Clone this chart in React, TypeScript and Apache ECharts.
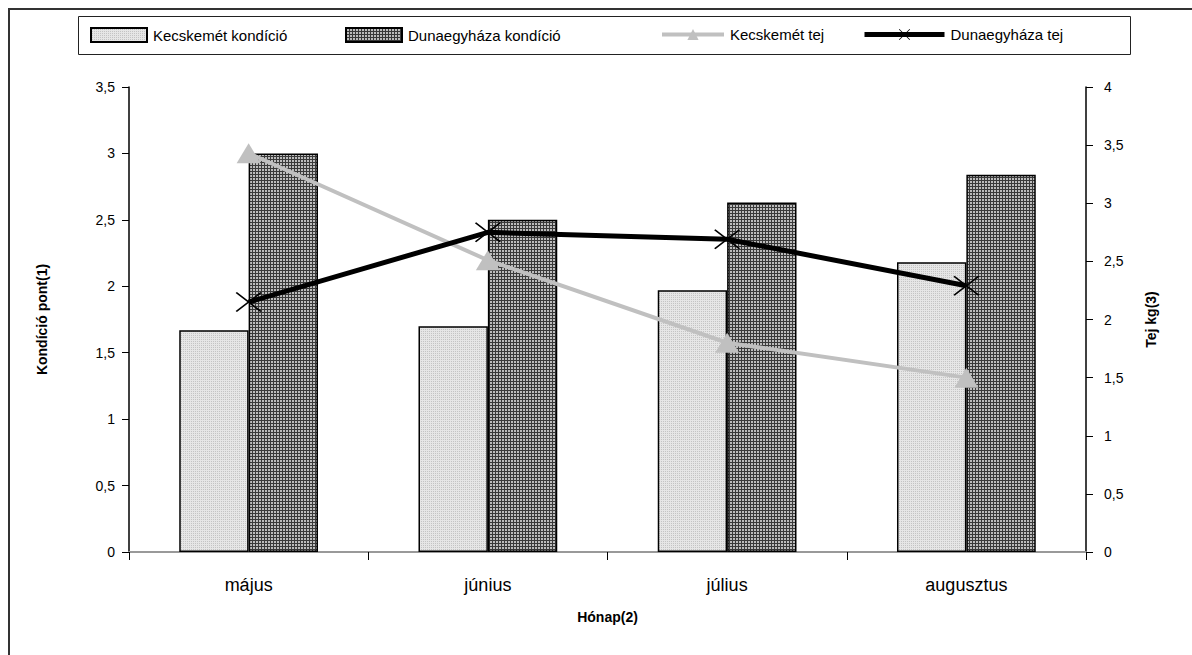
import React, { useEffect, useRef } from "react";
import * as echarts from "echarts";

const categories = ["május", "június", "július", "augusztus"];
const kecKondicio = [1.67, 1.7, 1.97, 2.18];
const dunaKondicio = [3.0, 2.5, 2.63, 2.84];
const kecTej = [3.43, 2.51, 1.8, 1.5];
const dunaTej = [2.15, 2.75, 2.69, 2.29];
const seriesNames = [
  "Kecskemét kondíció",
  "Dunaegyháza kondíció",
  "Kecskemét tej",
  "Dunaegyháza tej",
];
const legendLefts = [90, 345, 660, 862];
const legendIconWidths = [56, 56, 62, 80];

const FONT = "'Liberation Sans', Arial, sans-serif";

function makePattern(cells: string[][]): HTMLCanvasElement {
  const c = document.createElement("canvas");
  const h = cells.length;
  const w = cells[0].length;
  c.width = w;
  c.height = h;
  const ctx = c.getContext("2d")!;
  for (let y = 0; y < h; y++) {
    for (let x = 0; x < w; x++) {
      ctx.fillStyle = cells[y][x];
      ctx.fillRect(x, y, 1, 1);
    }
  }
  return c;
}

const fmt = (v: number) => String(v).replace(".", ",");

export default function App() {
  const ref = useRef<HTMLDivElement>(null);
  useEffect(() => {
    document.body.style.margin = "0";
    if (!ref.current) return;
    const chart = echarts.init(ref.current, undefined, { renderer: "svg" });

    const light = makePattern([
      ["#e6e6e6", "#e6e6e6"],
      ["#e6e6e6", "#c4c4c4"],
    ]);
    const dark = makePattern([
      ["#3a3a3a", "#3a3a3a", "#3a3a3a"],
      ["#3a3a3a", "#bdbdbd", "#bdbdbd"],
      ["#3a3a3a", "#bdbdbd", "#bdbdbd"],
    ]);
    const lightFill: any = { image: light, repeat: "repeat" };
    const darkFill: any = { image: dark, repeat: "repeat" };

    const xPath =
      "path://M0,1L1,0L10,9L19,0L20,1L11,10L20,19L19,20L10,11L1,20L0,19L9,10Z";

    const lineWidths = [0, 0, 4, 5];
    const lineColors = ["", "", "#c0c0c0", "#000000"];
    const legends = seriesNames.map((name, i) => ({
      left: legendLefts[i],
      top: 27,
      padding: 0,
      itemWidth: legendIconWidths[i],
      itemHeight: 14,
      itemGap: 0,
      selectedMode: false,
      data: [i < 2 ? { name, icon: "rect" } : { name }],
      lineStyle: i < 2 ? undefined : { width: lineWidths[i], color: lineColors[i] },
      itemStyle:
        i < 2
          ? { borderWidth: 2, borderColor: "#000" }
          : { color: lineColors[i], borderWidth: 0 },
      textStyle: { fontSize: 15, fontFamily: FONT, color: "#000", padding: [0, 0, 0, 1] },
    }));

    chart.setOption({
      animation: false,
      backgroundColor: "#fff",
      textStyle: { fontFamily: FONT },
      graphic: [
        {
          type: "rect",
          silent: true,
          z: -10,
          shape: { x: 9, y: 9, width: 1400, height: 900 },
          style: { fill: "none", stroke: "#333", lineWidth: 2 },
        },
        {
          type: "rect",
          silent: true,
          z: -10,
          shape: { x: 78.5, y: 16.5, width: 1052, height: 38 },
          style: { fill: "none", stroke: "#222", lineWidth: 1 },
        },
      ],
      legend: legends,
      grid: { left: 129, right: 106, top: 87, bottom: 103, containLabel: false },
      xAxis: [
        {
          type: "category",
          data: categories,
          position: "bottom",
          boundaryGap: true,
          axisLine: { lineStyle: { color: "#000", width: 1.5 } },
          axisTick: { show: true, length: 8, lineStyle: { color: "#000" } },
          axisLabel: { fontSize: 18, color: "#000", margin: 24, fontFamily: FONT },
          name: "Hónap(2)",
          nameLocation: "middle",
          nameGap: 58,
          nameTextStyle: { fontSize: 14, fontWeight: "bold", color: "#000", fontFamily: FONT },
        },
        {
          type: "category",
          data: categories,
          position: "top",
          axisLine: { lineStyle: { color: "#999", width: 2 } },
          axisTick: { show: false },
          axisLabel: { show: false },
        },
      ],
      yAxis: [
        {
          type: "value",
          min: 0,
          max: 3.5,
          interval: 0.5,
          position: "left",
          splitLine: { show: false },
          axisLine: { show: true, lineStyle: { color: "#000", width: 1.5 } },
          axisTick: { show: true, length: 7, lineStyle: { color: "#000" } },
          axisLabel: { fontSize: 14, color: "#000", margin: 14, formatter: fmt, fontFamily: FONT },
          name: "Kondíció pont(1)",
          nameLocation: "middle",
          nameGap: 80,
          nameRotate: 90,
          nameTextStyle: { fontSize: 14, fontWeight: "bold", color: "#000", fontFamily: FONT },
        },
        {
          type: "value",
          min: 0,
          max: 4,
          interval: 0.5,
          position: "right",
          splitLine: { show: false },
          axisLine: { show: true, lineStyle: { color: "#000", width: 1.5 } },
          axisTick: { show: true, length: 7, lineStyle: { color: "#000" } },
          axisLabel: { fontSize: 14, color: "#000", margin: 18, formatter: fmt, fontFamily: FONT },
          name: "Tej kg(3)",
          nameLocation: "middle",
          nameGap: 58,
          nameRotate: 90,
          nameTextStyle: { fontSize: 14, fontWeight: "bold", color: "#000", fontFamily: FONT },
        },
      ],
      series: [
        {
          name: seriesNames[0],
          type: "bar",
          data: kecKondicio,
          barGap: "0%",
          barCategoryGap: "42%",
          itemStyle: { color: lightFill, borderColor: "#000", borderWidth: 1.5 },
          z: 2,
        },
        {
          name: seriesNames[1],
          type: "bar",
          data: dunaKondicio,
          barGap: "0%",
          barCategoryGap: "42%",
          itemStyle: { color: darkFill, borderColor: "#000", borderWidth: 1.5 },
          z: 2,
        },
        {
          name: seriesNames[2],
          type: "line",
          yAxisIndex: 1,
          data: kecTej,
          symbol: "triangle",
          symbolSize: [24, 20],
          lineStyle: { color: "#c0c0c0", width: 4 },
          itemStyle: { color: "#c0c0c0", borderWidth: 0 },
          z: 5,
        },
        {
          name: seriesNames[3],
          type: "line",
          yAxisIndex: 1,
          data: dunaTej,
          symbol: xPath,
          symbolSize: [26, 20],
          lineStyle: { color: "#000", width: 5 },
          itemStyle: { color: "#000", borderWidth: 0 },
          z: 6,
        },
      ],
    });
    return () => chart.dispose();
  }, []);
  return <div ref={ref} style={{ width: 1192, height: 655 }} />;
}
